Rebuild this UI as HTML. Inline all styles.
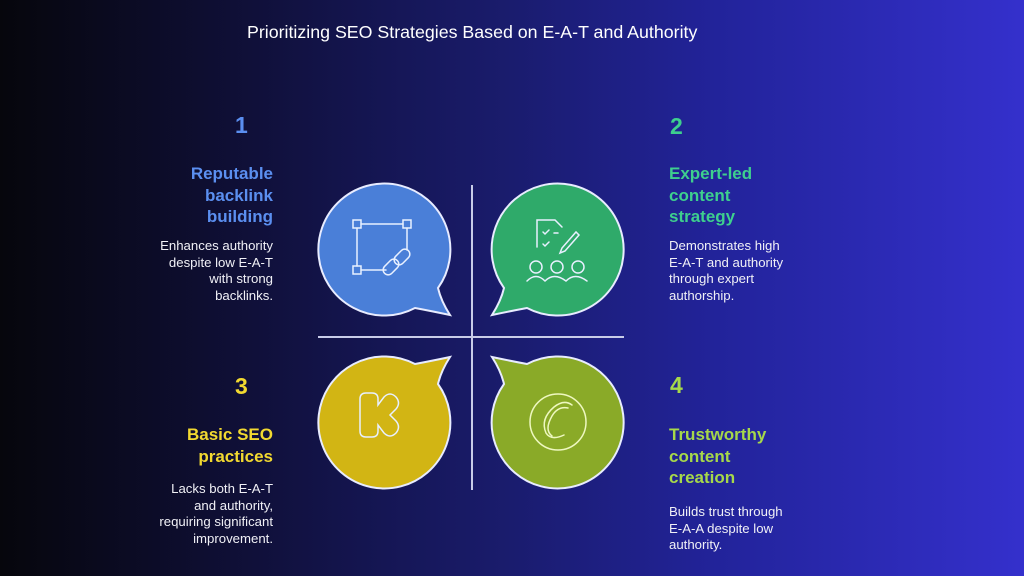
<!DOCTYPE html>
<html><head><meta charset="utf-8"><style>
body{margin:0;width:1024px;height:576px;overflow:hidden;background:linear-gradient(90deg,#06060c 0%,#10103a 25%,#1a1c6e 50%,#22239a 70%,#3430cc 100%);font-family:"Liberation Sans",sans-serif;position:relative}
.t{position:absolute;white-space:nowrap}
.title{left:247px;top:22px;font-size:17.8px;color:#fff}
.num{font-size:23px;font-weight:bold}
.h{font-size:17px;font-weight:bold;line-height:21.5px}
.b{font-size:13.2px;line-height:16.5px;color:#f0f0f6}
.r{text-align:right;right:751px}
.l{left:669px}
</style></head><body>
<div class="t title">Prioritizing SEO Strategies Based on E-A-T and Authority</div>

<div class="t num" style="left:235px;top:112px;color:#5b8ff0">1</div>
<div class="t h r" style="top:163px;color:#5b8ff0">Reputable<br>backlink<br>building</div>
<div class="t b r" style="top:238px">Enhances authority<br>despite low E-A-T<br>with strong<br>backlinks.</div>

<div class="t num" style="left:670px;top:113px;color:#3ecf8e">2</div>
<div class="t h l" style="top:163px;color:#3ecf8e">Expert-led<br>content<br>strategy</div>
<div class="t b l" style="top:238px">Demonstrates high<br>E-A-T and authority<br>through expert<br>authorship.</div>

<div class="t num" style="left:235px;top:373px;color:#f2d930">3</div>
<div class="t h r" style="top:424px;color:#f2d930">Basic SEO<br>practices</div>
<div class="t b r" style="top:481px">Lacks both E-A-T<br>and authority,<br>requiring significant<br>improvement.</div>

<div class="t num" style="left:670px;top:372px;color:#a6d84a">4</div>
<div class="t h l" style="top:424px;color:#a6d84a">Trustworthy<br>content<br>creation</div>
<div class="t b l" style="top:504px">Builds trust through<br>E-A-A despite low<br>authority.</div>

<svg width="1024" height="576" style="position:absolute;left:0;top:0">
<defs><path id="bub" d="M415 308 A66 66 0 1 1 438 288 Q441 301 450 315 Q431 311 415 308 Z" stroke="#e8ecff" stroke-width="2"/></defs>
<line x1="472" y1="185" x2="472" y2="490" stroke="#c8cce8" stroke-width="2"/>
<line x1="318" y1="337" x2="624" y2="337" stroke="#c8cce8" stroke-width="2"/>
<use href="#bub" fill="#4a7fd8"/>
<g transform="translate(942,0) scale(-1,1)"><use href="#bub" fill="#2faa6a"/></g>
<g transform="translate(0,672) scale(1,-1)"><use href="#bub" fill="#d2b514"/></g>
<g transform="translate(942,672) scale(-1,-1)"><use href="#bub" fill="#8aaa28"/></g>
<g fill="none" stroke="#e8f0ff" stroke-width="1.5" stroke-linecap="round">
<rect x="353" y="220" width="8" height="8"/><rect x="403" y="220" width="8" height="8"/><rect x="353" y="266" width="8" height="8"/>
<line x1="361" y1="224" x2="403" y2="224"/><line x1="357" y1="228" x2="357" y2="266"/><line x1="407" y1="228" x2="407" y2="250"/><line x1="361" y1="270" x2="386" y2="270"/>
<rect x="386" y="258" width="10" height="18" rx="5" transform="rotate(45 391 267)"/><rect x="397" y="248" width="10" height="18" rx="5" transform="rotate(45 402 257)"/>
<path d="M537 247 V220 H555 L562 227"/><path d="M543 232 l2 2 4-4 M543 244 l2 2 4-4 M554 233 h4"/>
<path d="M562 248 l14-16 3 3 -14 16 -5 2z"/>
<circle cx="536" cy="267" r="6"/><circle cx="557" cy="267" r="6"/><circle cx="578" cy="267" r="6"/>
<path d="M527 281 q9-9 18 0 q9-9 21 0 q9-9 21 0"/>
<path d="M360 399 q0-6 6-6 h6 q6 0 6 6 v6 l6-8 q6-6 12 0 q5 6 0 12 l-6 6 6 6 q5 6 0 12 q-6 6-12 0 l-6-8 v6 q0 6-6 6 h-6 q-6 0-6-6z"/>
<g stroke="#eef8c0"><circle cx="558" cy="422" r="28"/><path d="M572 405 q-8-6-18 2 q-14 12-8 26 q5 8 18 2 M568 408 q-10-2-16 8 q-8 14 0 20"/></g>
</g>
</svg>
</body></html>
